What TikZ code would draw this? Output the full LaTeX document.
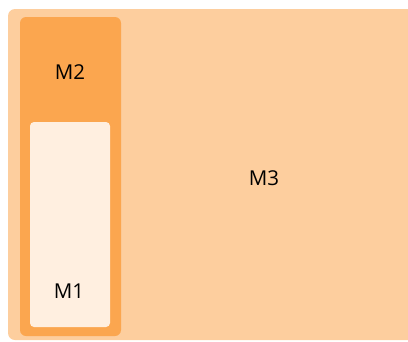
\documentclass[tikz,border=0pt]{standalone}
\usepackage{fontspec}
\setmainfont{Open Sans}
\definecolor{outerfill}{HTML}{FDCE9E}
\definecolor{midfill}{HTML}{FBA64F}
\definecolor{innerfill}{HTML}{FFEFE0}
\begin{document}
\begin{tikzpicture}[x=1pt,y=-1pt,
  lbl/.style={font=\fontsize{20.5}{24}\selectfont,text=black}]
\useasboundingbox (0,0) rectangle (408,341);
% outer region M3
\fill[outerfill,rounded corners=7pt] (8,9) rectangle (416,340);
% column M2
\fill[midfill,rounded corners=6pt] (20,17) rectangle (121,336);
% cell M1
\fill[innerfill,rounded corners=4pt] (30,122) rectangle (110,327);
\node[lbl] (m3) at (264,178) {M3};
\node[lbl] (m2) at (70,72) {M2};
\node[lbl] (m1) at (69,291) {M1};
\end{tikzpicture}
\end{document}
